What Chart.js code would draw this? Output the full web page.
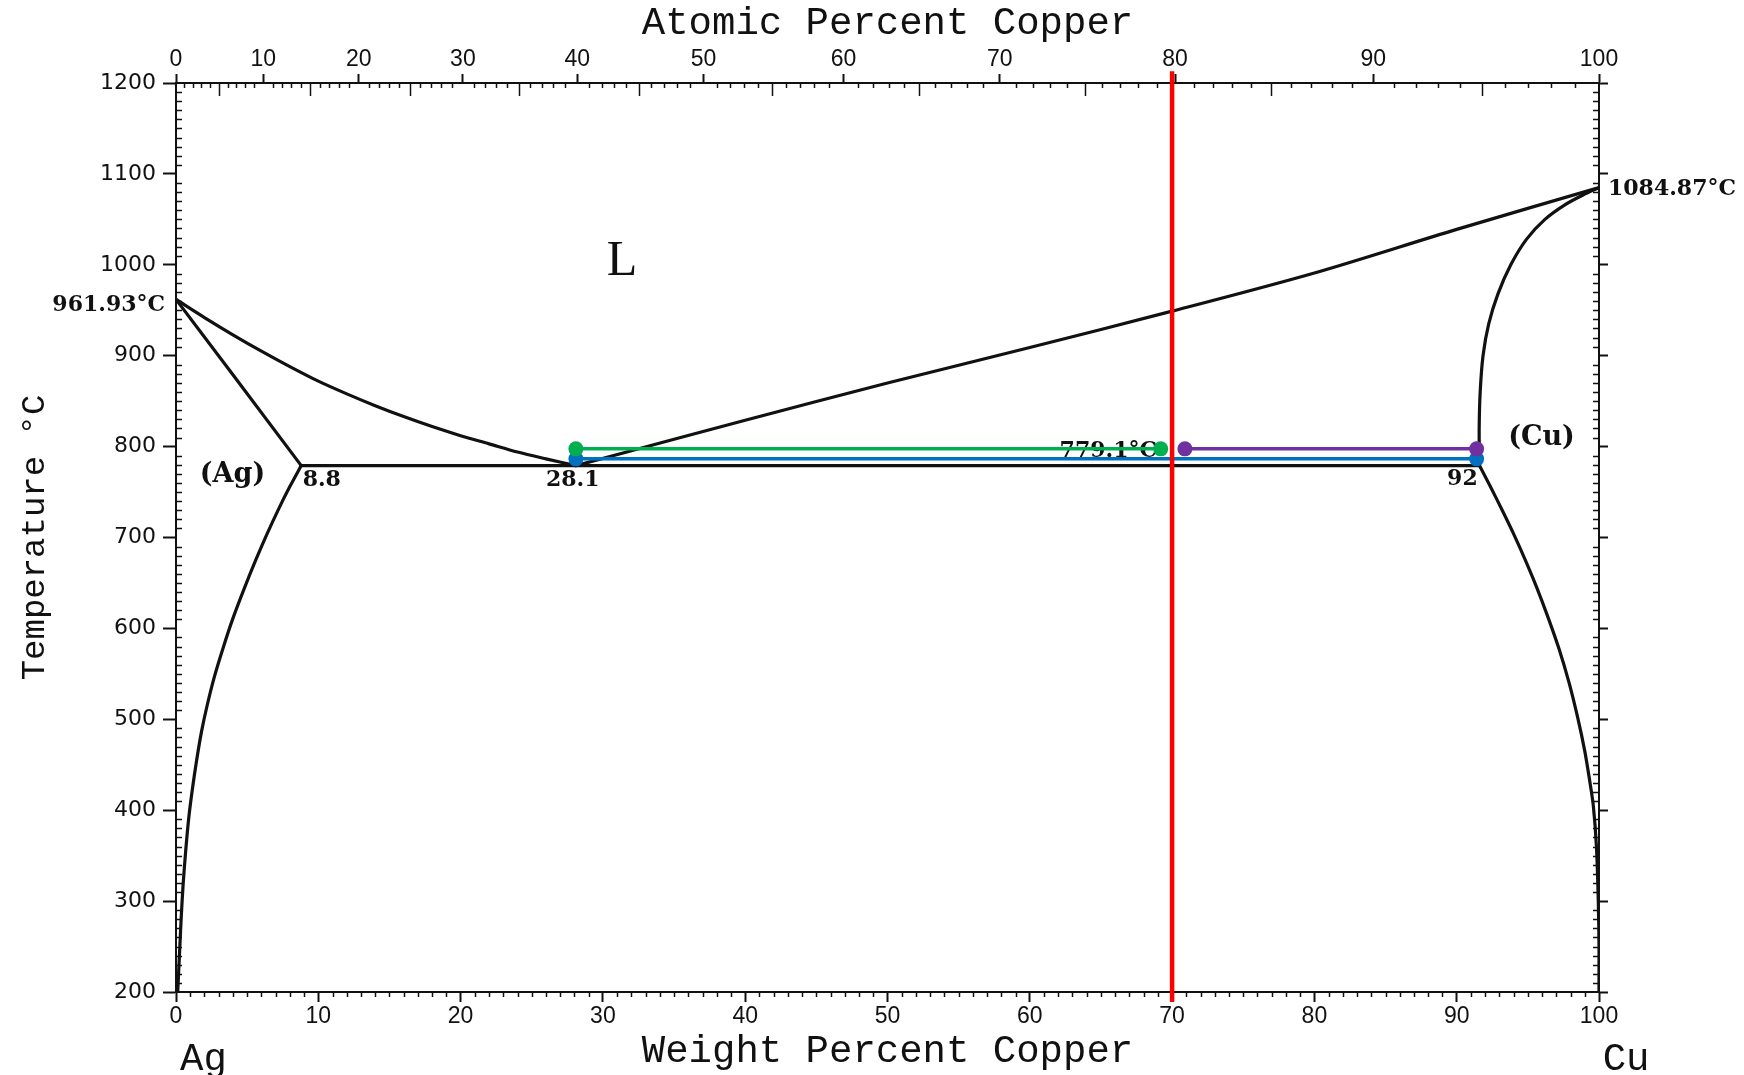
<!DOCTYPE html>
<html>
<head>
<meta charset="utf-8">
<script src="https://cdn.jsdelivr.net/npm/chart.js@4.4.1/dist/chart.umd.min.js"></script>
<style>
html,body{margin:0;padding:0;background:#fff;}
canvas{display:block;}
</style>
</head>
<body>
<canvas id="c" width="1744" height="1075"></canvas>
<script>
// ---------- axis ticks ----------
const weightTicks = [0, 10, 20, 30, 40, 50, 60, 70, 80, 90, 100];
const atomicTickLabels = ['0', '10', '20', '30', '40', '50', '60', '70', '80', '90', '100'];
const atomicTickWt = [0, 6.14, 12.84, 20.16, 28.20, 37.07, 46.91, 57.89, 70.21, 84.13, 100];
const tempTicks = [200, 300, 400, 500, 600, 700, 800, 900, 1000, 1100, 1200];

// ---------- phase boundaries [wt% Cu, °C] ----------
const liquidusAg = [[0, 961.93], [2, 942], [4, 923], [6, 905], [8, 888], [10, 872], [12, 858], [14, 845], [16, 833], [18, 822], [20, 812], [22, 803], [24, 794], [26, 786.5], [28.1, 779.1]];
const liquidusCu = [[28.1, 779.1], [35, 808], [40, 829], [50, 870], [60, 909], [70, 949], [80, 991], [90, 1039], [100, 1084.87]];
const solidusAg = [[0, 961.93], [4, 879], [8.8, 779.1]];
const solvusAg = [[8.8, 779.1], [8.0, 756], [7.2, 731], [6.4, 704], [5.6, 675], [4.8, 644], [4.0, 611], [3.3, 578], [2.7, 547], [2.2, 516], [1.8, 487], [1.45, 455], [1.15, 423], [0.9, 392], [0.68, 355], [0.5, 318], [0.36, 280], [0.24, 240], [0.12, 200]];
const eutecticLine = [[8.8, 779.1], [91.6, 779.1]];
const solidusCu = [[91.6, 779.1], [91.58, 820], [91.65, 860], [91.85, 900], [92.25, 935], [92.9, 968], [93.8, 1000], [94.9, 1028], [96.2, 1050], [97.6, 1066], [98.9, 1077], [100, 1084.87]];
const solvusCu = [[91.6, 779.1], [92.4, 755], [93.2, 730], [94.0, 704], [94.8, 676], [95.6, 646], [96.4, 613], [97.2, 577], [97.9, 540], [98.5, 502], [99.0, 465], [99.35, 432], [99.6, 405], [99.82, 360], [99.95, 300], [100, 250], [100, 200]];

// ---------- overlays ----------
const redComposition = [[70, 1213], [70, 189]];
const greenTie = [[28.1, 797.5], [69.2, 797.5]];
const blueTie = [[28.1, 786.5], [91.4, 786.5]];
const purpleTie = [[70.9, 797.5], [91.4, 797.5]];

// ---------- text labels ----------
const labelTexts = ['L', '(Ag)', '(Cu)', '8.8', '28.1', '92', '779.1°C', '961.93°C', '1084.87°C', 'Ag', 'Cu'];
const labelX = [31.34, 3.97, 95.96, 8.9, 27.88, 90.4, 68.94, -0.77, 100.63, 1.93, 101.9];
const labelY = [1003.4, 768.8, 810, 762.7, 762.7, 763.9, 794.8, 955.2, 1083.4, 125.2, 125.2];
const labelAlign = ['center', 'center', 'center', 'left', 'center', 'center', 'right', 'right', 'left', 'center', 'center'];

const MONO = "'Liberation Mono', 'DejaVu Sans Mono', monospace";
const SERIF_B = "bold 22px 'DejaVu Serif', serif";
const labelFonts = [
  "50px 'Liberation Serif', serif",
  "bold 27px 'DejaVu Serif', serif",
  "bold 27px 'DejaVu Serif', serif",
  SERIF_B, SERIF_B, SERIF_B, SERIF_B, SERIF_B, SERIF_B,
  "39px " + MONO, "39px " + MONO
];

const pts = a => a.map(p => ({x: p[0], y: p[1]}));
const INK = '#111';

function blackLine(data, tension) {
  return {data: pts(data), showLine: true, borderColor: INK, borderWidth: 3.2, pointRadius: 0,
          tension: tension, fill: false, order: 10, borderCapStyle: 'round', borderJoinStyle: 'round'};
}
function tieLine(data, color, ord) {
  return {data: pts(data), showLine: true, borderColor: color, backgroundColor: color, borderWidth: 3.5,
          pointRadius: 7.5, pointBorderWidth: 0, pointBackgroundColor: color, tension: 0, order: ord};
}

function atToWt(a) {
  const cu = a * 63.546, ag = (100 - a) * 107.868;
  return cu / (cu + ag) * 100;
}

const labelPlugin = {
  id: 'labels',
  beforeDatasetsDraw(chart) {
    const ctx = chart.ctx, xs = chart.scales.x, ys = chart.scales.y;
    ctx.save();
    ctx.fillStyle = INK;
    ctx.textBaseline = 'middle';
    for (let i = 0; i < labelTexts.length; i++) {
      ctx.font = labelFonts[i];
      ctx.textAlign = labelAlign[i];
      ctx.fillText(labelTexts[i], xs.getPixelForValue(labelX[i]), ys.getPixelForValue(labelY[i]));
    }
    ctx.restore();
  },
  afterDraw(chart) {
    const ctx = chart.ctx, xs = chart.scales.x, ys = chart.scales.y;
    const a = chart.chartArea;
    ctx.save();
    ctx.strokeStyle = INK;
    ctx.lineWidth = 1.5;
    ctx.beginPath();
    for (let w = 1; w < 100; w++) {
      if (w % 10 === 0) continue;
      const px = Math.round(xs.getPixelForValue(w)) + 0.5;
      ctx.moveTo(px, a.bottom); ctx.lineTo(px, a.bottom + 5);
    }
    for (let at = 1; at < 100; at++) {
      if (at % 10 === 0) continue;
      const px = Math.round(xs.getPixelForValue(atToWt(at))) + 0.5;
      const len = (at % 5 === 0) ? 13 : 5;
      ctx.moveTo(px, a.top); ctx.lineTo(px, a.top + len);
    }
    for (let t = 210; t < 1200; t += 10) {
      if (t % 100 === 0) continue;
      const py = Math.round(ys.getPixelForValue(t)) + 0.5;
      ctx.moveTo(a.left, py); ctx.lineTo(a.left + 6, py);
      ctx.moveTo(a.right, py); ctx.lineTo(a.right - 6, py);
    }
    ctx.stroke();
    ctx.restore();
  }
};

const tickFontX = {family: "'Liberation Sans', Arial, sans-serif", size: 23};
const titleFont = {family: MONO, size: 39};

new Chart(document.getElementById('c'), {
  type: 'scatter',
  data: {
    datasets: [
      Object.assign(blackLine(liquidusAg, 0.3), {label: 'liquidusAg'}),
      Object.assign(blackLine(liquidusCu, 0.3), {label: 'liquidusCu'}),
      Object.assign(blackLine(solidusAg, 0), {label: 'solidusAg'}),
      Object.assign(blackLine(solvusAg, 0.3), {label: 'solvusAg'}),
      Object.assign(blackLine(eutecticLine, 0), {label: 'eutectic'}),
      Object.assign(blackLine(solidusCu, 0.3), {label: 'solidusCu'}),
      Object.assign(blackLine(solvusCu, 0.3), {label: 'solvusCu'}),
      Object.assign(tieLine(blueTie, '#0070c0', 3), {label: 'blue'}),
      Object.assign(tieLine(greenTie, '#00b050', 2), {label: 'green'}),
      Object.assign(tieLine(purpleTie, '#7030a0', 1), {label: 'purple'}),
      {label: 'red', data: pts(redComposition), showLine: true, borderColor: '#ff0000', borderWidth: 4.5,
       pointRadius: 0, tension: 0, order: 0, clip: false}
    ]
  },
  options: {
    responsive: false,
    devicePixelRatio: 1,
    animation: false,
    events: [],
    layout: {padding: 0},
    plugins: {legend: {display: false}, tooltip: {enabled: false}},
    scales: {
      x: {
        type: 'linear', position: 'bottom', min: 0, max: 100,
        afterBuildTicks: s => { s.ticks = weightTicks.map(v => ({value: v})); },
        ticks: {font: tickFontX, color: INK, padding: 1, maxRotation: 0, autoSkip: false,
                callback: (v, i) => String(weightTicks[i])},
        grid: {drawOnChartArea: false, drawTicks: true, tickLength: 10, tickColor: INK, tickWidth: 2},
        border: {display: true, color: INK, width: 2},
        title: {display: true, text: 'Weight Percent Copper', font: titleFont, color: INK, padding: {top: 0, bottom: 0}},
        afterFit: s => { s.height = 83; }
      },
      x2: {
        type: 'linear', position: 'top', min: 0, max: 100,
        afterBuildTicks: s => { s.ticks = atomicTickWt.map(v => ({value: v})); },
        ticks: {font: tickFontX, color: INK, padding: 1, maxRotation: 0, autoSkip: false,
                callback: (v, i) => atomicTickLabels[i]},
        grid: {drawOnChartArea: false, drawTicks: true, tickLength: 9, tickColor: INK, tickWidth: 2},
        border: {display: true, color: INK, width: 2},
        title: {display: true, text: 'Atomic Percent Copper', font: titleFont, color: INK, padding: {top: 0, bottom: 0}},
        afterFit: s => { s.height = 83; }
      },
      y: {
        type: 'linear', position: 'left', min: 200, max: 1200,
        afterBuildTicks: s => { s.ticks = tempTicks.map(v => ({value: v})); },
        ticks: {font: {family: "'DejaVu Sans', sans-serif", size: 22}, color: INK, padding: 7,
                callback: (v, i) => String(tempTicks[i])},
        grid: {drawOnChartArea: false, drawTicks: true, tickLength: 13, tickColor: INK, tickWidth: 2},
        border: {display: true, color: INK, width: 2},
        title: {display: true, text: 'Temperature °C', font: {family: MONO, size: 34}, color: INK, padding: {top: 15, bottom: 0}},
        afterFit: s => { s.width = 176; }
      },
      y2: {
        type: 'linear', position: 'right', min: 200, max: 1200,
        afterBuildTicks: s => { s.ticks = tempTicks.map(v => ({value: v})); },
        ticks: {display: false},
        grid: {drawOnChartArea: false, drawTicks: true, tickLength: 9, tickColor: INK, tickWidth: 2},
        border: {display: true, color: INK, width: 2},
        afterFit: s => { s.width = 145; }
      }
    }
  },
  plugins: [labelPlugin]
});
</script>
</body>
</html>
